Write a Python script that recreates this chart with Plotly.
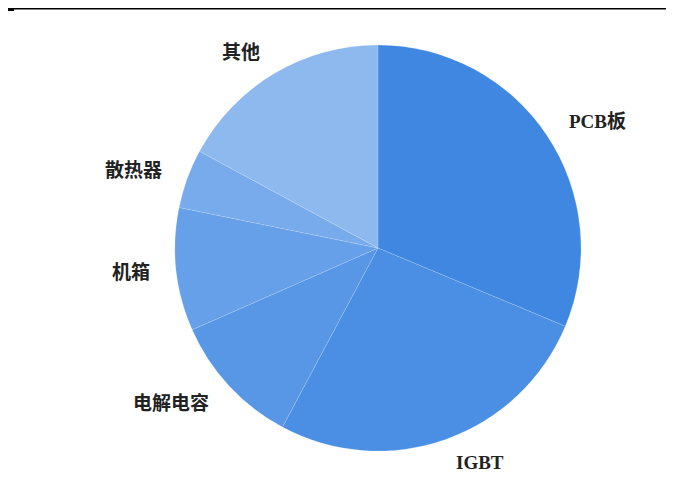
import math
import plotly.graph_objects as go

# Data (share of cost, %)
categories = ["PCB板", "IGBT", "电解电容", "机箱", "散热器", "其他"]
values = [31.3, 26.5, 10.6, 9.8, 4.7, 17.1]
colors = ["#3f87e0", "#4a8fe3", "#5897e5", "#66a0e8", "#77abeb", "#8eb9ef"]

# The page body has an 8px margin, so work in figure pixels = page pixels - 8
W, H = 666, 480
cx, cy, r = 370, 240, 203  # pie centre / radius in figure pixels

fig = go.Figure()
fig.add_trace(go.Pie(
    labels=categories,
    values=values,
    sort=False,
    direction="clockwise",
    rotation=0,
    textinfo="none",
    hoverinfo="label+percent",
    marker=dict(colors=colors, line=dict(color="rgba(255,255,255,0.25)", width=0.6)),
    showlegend=False,
    domain=dict(x=[(cx - r) / W, (cx + r) / W], y=[1 - (cy + r) / H, 1 - (cy - r) / H]),
))

# Labels placed outside each slice at its mid-angle
total = sum(values)
cum = 0.0
annotations = []
for lab, v in zip(categories, values):
    mid = (cum + v / 2) / total * 2 * math.pi
    cum += v
    d = r * 1.12
    px = cx + d * math.sin(mid)
    py = cy - d * math.cos(mid)
    annotations.append(dict(
        x=px / W, y=1 - py / H, xref="paper", yref="paper",
        text=lab, showarrow=False,
        xanchor="left" if math.sin(mid) >= 0 else "right",
        yanchor="middle",
        font=dict(family="Liberation Serif, Noto Sans CJK SC", size=19, color="#222222", weight="bold"),
    ))

fig.update_layout(
    width=W, height=H,
    margin=dict(l=0, r=0, t=0, b=0),
    paper_bgcolor="white", plot_bgcolor="white",
    annotations=annotations,
    shapes=[
        dict(type="line", xref="paper", yref="paper", x0=0, x1=1, y0=1 - 0.8 / H, y1=1 - 0.8 / H,
             line=dict(color="black", width=1.5)),
        dict(type="line", xref="paper", yref="paper", x0=0, x1=6 / W, y0=1 - 1.5 / H, y1=1 - 1.5 / H,
             line=dict(color="black", width=3)),
    ],
)

fig.write_html("out.html")
